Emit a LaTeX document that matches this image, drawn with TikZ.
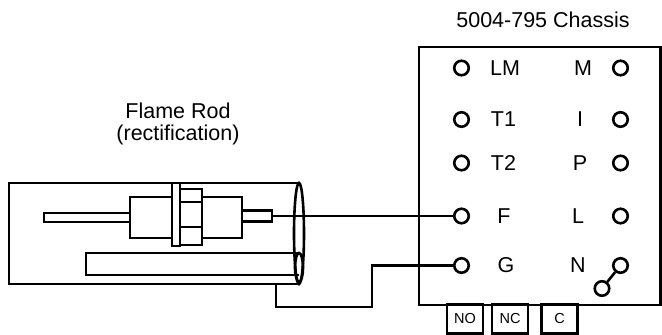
\documentclass[tikz,border=0pt]{standalone}
\usepackage{fontspec}
\setmainfont{Liberation Sans}
\usetikzlibrary{positioning}

\tikzset{
  term/.style={draw, circle, minimum size=14.5pt, inner sep=0pt},
  relay/.style={draw, minimum width=36pt, minimum height=29pt, inner sep=0pt, font=\fontsize{14.5}{16}\selectfont},
  part/.style={draw, inner sep=0pt}
}

\begin{document}
\begin{tikzpicture}[x=1pt,y=-1pt,line width=2.6pt,font=\fontsize{21.5}{25}\selectfont]
    \useasboundingbox (0,0) rectangle (662,335);

    % chassis
    \node (title) at (543,20) {5004-795 Chassis};
    \draw (419,47) rectangle (660.5,305);
    \node[relay] (no) at (465,319) {NO};
    \node[relay] (nc) at (510,319) {NC};
    \node[relay] (c) at (559.5,319) {C};

    \node[term] (LMt) at (461.5,68) {};
    \node[term] (T1t) at (461.5,119.5) {};
    \node[term] (T2t) at (461.5,163) {};
    \node[term] (Ft) at (461.5,216) {};
    \node[term] (Gt) at (461.5,265.5) {};
    \node[term] (Mt) at (620.5,68) {};
    \node[term] (It) at (620.5,119.5) {};
    \node[term] (Pt) at (620.5,163) {};
    \node[term] (Lt) at (620.5,216) {};
    \node[term] (Nt) at (620.5,265.5) {};
    \node[term] (link) at (602,288.5) {};

    \node (LMl) at (505,68) {LM};
    \node (T1l) at (503.5,119.5) {T1};
    \node (T2l) at (503.5,163) {T2};
    \node (Fl) at (504,216) {F};
    \node (Gl) at (506,265.5) {G};
    \node (Ml) at (583,68) {M};
    \node (Il) at (580,119.5) {I};
    \node (Pl) at (580,163) {P};
    \node (Ll) at (578,216) {L};
    \node (Nl) at (578,265.5) {N};

    \draw (link) -- (Nt);

    % flame rod
    \node (rodname) at (178,111) {Flame Rod};
    \node (rodnote) at (178,135) {(rectification)};

    \draw (298,183) -- (9,183) -- (9,284) -- (298,284);
    \draw (299,233.5) ellipse [x radius=5, y radius=50.5];
    \draw (299,253) -- (86,253) -- (86,275) -- (299,275);
    \draw (299,267.5) ellipse [x radius=4, y radius=14.5];

    \node[part, minimum width=86pt, minimum height=9pt] (rod) at (87,217.5) {};
    \node[part, minimum width=42pt, minimum height=41pt] (bodyl) at (151,217.5) {};
    \node[part, minimum width=8pt, minimum height=63pt] (flange) at (176,214.5) {};
    \node[part, minimum width=22pt, minimum height=56pt] (nut) at (191,217) {};
    \draw (nut.west |- 0,202) -- (nut.east |- 0,202);
    \draw (nut.west |- 0,227) -- (nut.east |- 0,227);
    \node[part, minimum width=40pt, minimum height=41pt] (bodyr) at (222,217.5) {};
    \node[part, minimum width=30pt, minimum height=11pt] (tip) at (257,216) {};

    % wiring
    \draw (tip.east) -- (Ft.west);
    \coordinate (gnd) at (276,284);
    \draw (gnd) -- ++(0,23) -| (372,265.5) -- (Gt.west);
\end{tikzpicture}
\end{document}
